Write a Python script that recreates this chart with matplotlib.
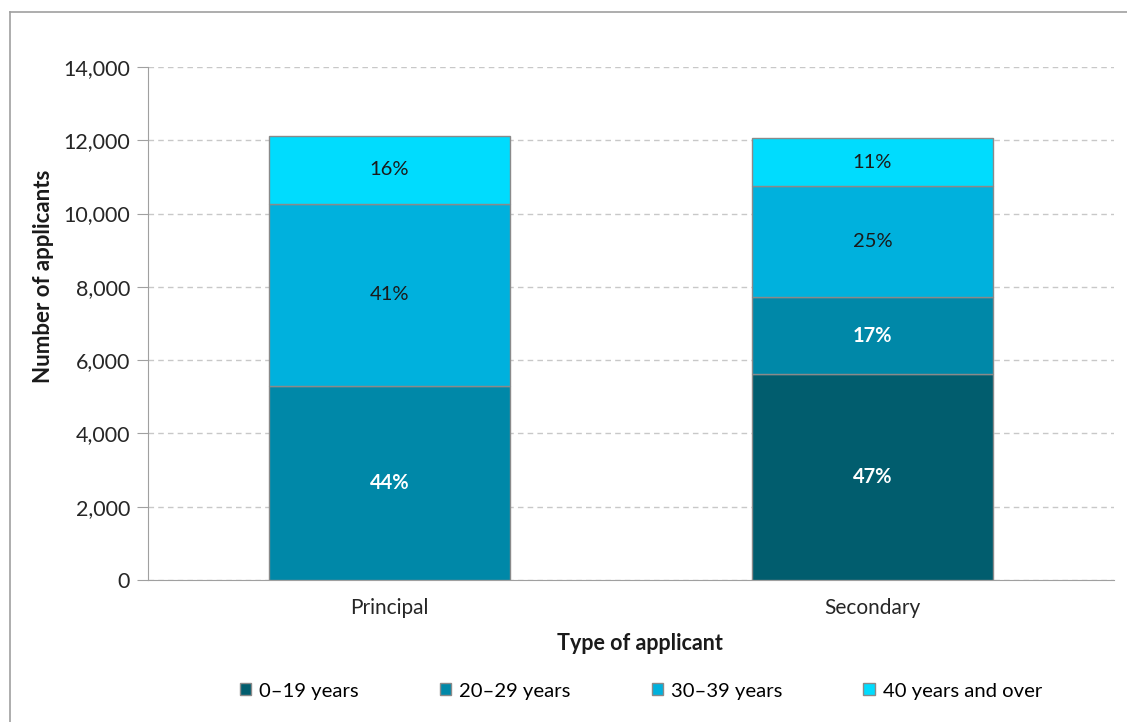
import matplotlib.pyplot as plt
import matplotlib.patches as mpatches
from matplotlib.ticker import FuncFormatter

plt.rcParams['font.family'] = ['Lato', 'DejaVu Sans']

# data
applicant_types = ['Principal', 'Secondary']
age_groups = ['0\u201319 years', '20\u201329 years', '30\u201339 years', '40 years and over']
age_0_19 = [0, 5630]
age_20_29 = [5300, 2080]
age_30_39 = [4960, 3030]
age_40_plus = [1860, 1310]
pct_labels = [
    ['', '47%'],
    ['44%', '17%'],
    ['41%', '25%'],
    ['16%', '11%'],
]

colors = ['#015d6e', '#0088a8', '#00b1dd', '#00dcfe']
label_colors = ['white', 'white', '#1a1a1a', '#1a1a1a']
label_weights = ['bold', 'bold', 'normal', 'normal']

fig = plt.figure(figsize=(11.27, 7.22), dpi=100)
ax = fig.add_axes([148 / 1127, 1 - 580 / 722, (1114 - 148) / 1127, (580 - 67) / 722])

# outer frame like the Excel chart area
fig.add_artist(plt.Line2D([10 / 1127, 10 / 1127], [0, 1 - 12 / 722], color='#a0a0a0', lw=1.2, transform=fig.transFigure))
fig.add_artist(plt.Line2D([10 / 1127, 1], [1 - 12 / 722, 1 - 12 / 722], color='#a0a0a0', lw=1.2, transform=fig.transFigure))

series = [age_0_19, age_20_29, age_30_39, age_40_plus]
x = list(range(len(applicant_types)))
bottom = [0] * len(x)
for i, vals in enumerate(series):
    bars = ax.bar(x, vals, 0.5, bottom=bottom, color=colors[i], edgecolor='#8a8a8a',
                  linewidth=1.0, zorder=3)
    for j, b in enumerate(bars):
        if vals[j] > 0 and pct_labels[i][j]:
            ax.text(b.get_x() + b.get_width() / 2, bottom[j] + vals[j] / 2, pct_labels[i][j],
                    ha='center', va='center', fontsize=14.5, color=label_colors[i],
                    fontweight=label_weights[i], zorder=4)
    bottom = [bottom[k] + vals[k] for k in range(len(x))]

ax.set_xlim(-0.5, 1.5)
ax.set_ylim(0, 14000)
ax.set_yticks(range(0, 14001, 2000))
ax.yaxis.set_major_formatter(FuncFormatter(lambda v, p: f'{int(v):,}'))
ax.set_xticks(x)
ax.set_xticklabels(applicant_types)
ax.tick_params(axis='y', length=8, color='#a0a0a0', labelsize=15.5, labelcolor='#262626', pad=5)
ax.tick_params(axis='x', length=0, labelsize=15, labelcolor='#262626', pad=13)

ax.grid(axis='y', color='#c8c8c8', linestyle=(0, (4, 3)), linewidth=1.0, zorder=0)
for s in ['top', 'right']:
    ax.spines[s].set_visible(False)
ax.spines['left'].set_color('#a0a0a0')
ax.spines['bottom'].set_color('#a0a0a0')

ax.set_xlabel('Type of applicant', fontsize=15.5, fontweight='bold', color='#1a1a1a', va='center')
ax.xaxis.set_label_coords((640 - 148) / (1114 - 148), -(643 - 580) / (580 - 67))
ax.set_ylabel('Number of applicants', fontsize=16, fontweight='bold', color='#1a1a1a', va='center')
ax.yaxis.set_label_coords(-(148 - 44) / (1114 - 148), (580 - 276) / (580 - 67))

handles = [mpatches.Patch(facecolor=colors[i], edgecolor='#8a8a8a', label=age_groups[i]) for i in range(4)]
fig.legend(handles=handles, loc='center', bbox_to_anchor=(641 / 1127, 1 - 691 / 722), ncol=4,
           frameon=False, fontsize=14.6, handlelength=0.55, handleheight=0.55, handletextpad=0.4,
           columnspacing=4.0)

fig.savefig('out.png', dpi=100)
